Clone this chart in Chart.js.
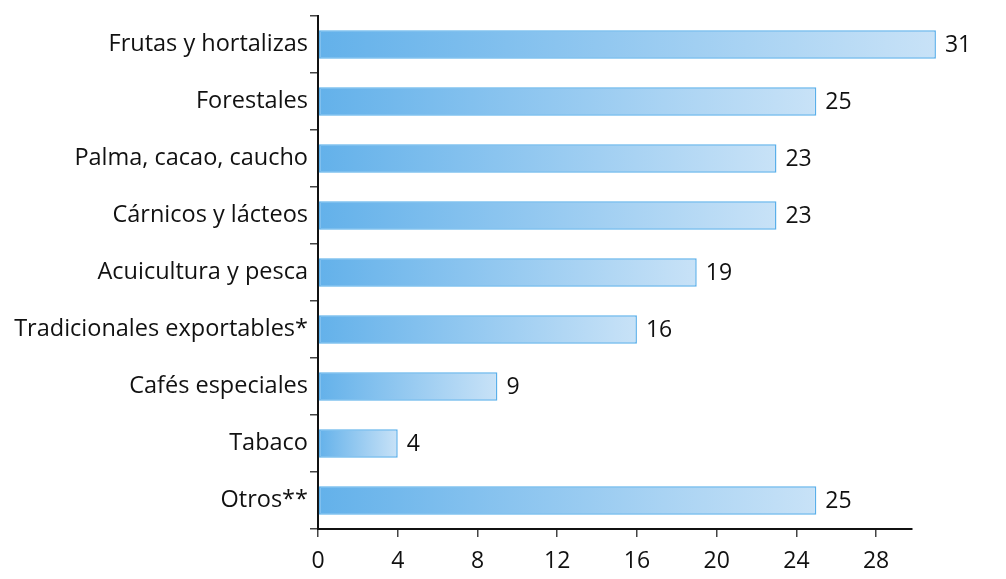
<!doctype html>
<html lang="es">
  <head>
    <meta charset="utf-8">
    <title>Sectores</title>
    <style>
      body { margin: 0; background: #fff; }
    </style>
  </head>
  <body>
    <canvas id="barGraph" width="1006" height="579"></canvas>
    <script src="https://cdn.jsdelivr.net/npm/chart.js@4.4.0/dist/chart.umd.min.js"></script>
    <script>
    var categories = ['Frutas y hortalizas', 'Forestales', 'Palma, cacao, caucho', 'Cárnicos y lácteos',
      'Acuicultura y pesca', 'Tradicionales exportables*', 'Cafés especiales', 'Tabaco', 'Otros**'];
    var values = [31, 25, 23, 23, 19, 16, 9, 4, 25];
    var xTicks = [0, 4, 8, 12, 16, 20, 24, 28];

    var fontFam = '"Open Sans", "Noto Sans", sans-serif';

    // each bar gets its own left-to-right gradient
    function barFill(ctx) {
      var chart = ctx.chart;
      if (!chart.chartArea) return '#7fbfee';
      var xs = chart.scales.x;
      var x0 = xs.getPixelForValue(0);
      var x1 = xs.getPixelForValue(values[ctx.dataIndex]);
      var g = chart.ctx.createLinearGradient(x0, 0, x1, 0);
      g.addColorStop(0, '#63b1ea');
      g.addColorStop(1, '#c8e2f7');
      return g;
    }

    // numbers written after the bar ends
    var valueLabels = {
      id: 'valueLabels',
      afterDatasetsDraw: function(chart) {
        var c = chart.ctx;
        var meta = chart.getDatasetMeta(0);
        c.save();
        c.fillStyle = '#111';
        c.font = '23px ' + fontFam;
        c.textBaseline = 'middle';
        c.textAlign = 'left';
        meta.data.forEach(function(bar, i) {
          c.fillText(values[i], bar.x + 9, bar.y + 1);
        });
        c.restore();
      }
    };

    var config = {
      type: 'bar',
      data: {
        labels: categories,
        datasets: [{
          data: values,
          clip: false,
          backgroundColor: barFill,
          borderColor: '#5aafea',
          borderWidth: 1.5,
          borderSkipped: false,
          barPercentage: 0.5,
          categoryPercentage: 1.0
        }]
      },
      options: {
        indexAxis: 'y',
        responsive: false,
        animation: false,
        layout: { padding: { top: 10, right: 94, left: 0, bottom: 0 } },
        plugins: {
          legend: { display: false },
          tooltip: { enabled: false }
        },
        scales: {
          x: {
            min: 0,
            max: 29.8,
            afterBuildTicks: function(axis) {
              axis.ticks = xTicks.map(function(v) { return { value: v }; });
            },
            afterFit: function(axis) { axis.height = 50; },
            border: { display: true, color: '#111', width: 2 },
            grid: { drawOnChartArea: false, drawTicks: true, tickLength: 8, color: '#444', lineWidth: 1.5 },
            ticks: { color: '#111', font: { size: 23, family: fontFam }, padding: 11, autoSkip: false, maxRotation: 0 }
          },
          y: {
            afterFit: function(axis) { axis.width = 318; },
            border: { display: true, color: '#111', width: 2 },
            grid: { drawOnChartArea: false, drawTicks: true, tickLength: 8, color: '#444', lineWidth: 1.5, offset: true },
            ticks: { color: '#111', font: { size: 23.5, family: fontFam }, padding: 2, autoSkip: false }
          }
        }
      },
      plugins: [valueLabels]
    };

    var renderGraph = new Chart(document.getElementById('barGraph'), config);
    </script>
  </body>
</html>
